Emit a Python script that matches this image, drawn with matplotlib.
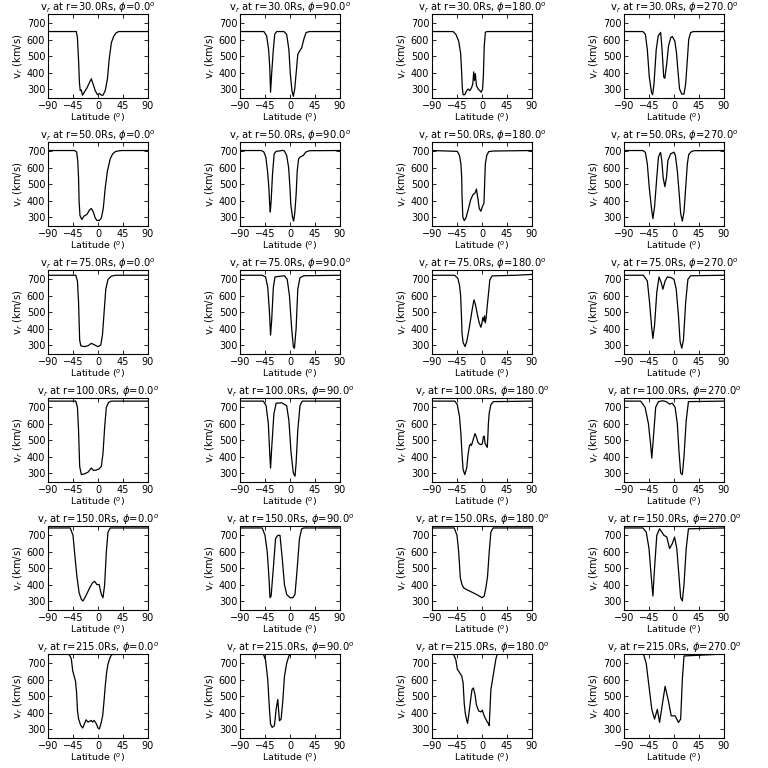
'''
Radial solar wind speed vs latitude at several distances and longitudes.
'''
import matplotlib
matplotlib.use('Agg')
import matplotlib.pyplot as plt

###############################################################################
# data (latitude in degrees, v_r in km/s)

RADII = [30.0, 50.0, 75.0, 100.0, 150.0, 215.0]
PHIS = [0.0, 90.0, 180.0, 270.0]

lat_30_0 = [-90, -39, -37, -35, -33.5, -32, -30, -28, -20, -12, -5, -1, 3, 6, 9, 13, 17, 20, 24, 28, 32, 37, 90]
v_30_0 = [650, 650, 612, 477, 342, 290, 294, 262, 306, 362, 290, 265, 273, 262, 262, 290, 362, 477, 581, 619, 640, 650, 650]
lat_30_90 = [-90, -47, -42, -38.5, -36.5, -35, -33, -30, -27.5, -24, -11, -6, -2, 0.5, 3.5, 6, 8.5, 11, 14, 17, 21, 25, 29, 35, 90]
v_30_90 = [650, 650, 623, 540, 435, 280, 394, 540, 633, 650, 650, 633, 540, 394, 290, 255, 300, 394, 510, 530, 550, 605, 644, 650, 650]
lat_30_180 = [-90, -52, -47, -42, -38.5, -36.5, -35.5, -34, -31, -27.5, -25, -22, -19, -16.5, -15, -13.5, -12, -10, -7, -4, -1.5, 1, 2.5, 4, 6, 8, 90]
v_30_180 = [650, 650, 633, 592, 519, 394, 310, 265, 265, 290, 300, 290, 306, 331, 404, 352, 394, 321, 300, 290, 280, 300, 383, 560, 644, 650, 650]
lat_30_270 = [-90, -56, -51.5, -48, -44.5, -40.5, -38.5, -36, -32, -28.5, -24, -21.5, -18.5, -16.5, -13, -10, -6, -3, 1.5, 4.5, 7.5, 10, 14, 18, 21, 24, 26.5, 30, 35, 90]
v_30_270 = [650, 650, 633, 540, 373, 279, 265, 331, 540, 623, 645, 540, 373, 365, 456, 560, 612, 620, 592, 519, 394, 300, 269, 269, 331, 477, 602, 644, 650, 650]

lat_50_0 = [-90, -42, -38.5, -36.5, -35, -34, -32.5, -30, -29, -25, -20, -15.5, -12, -8.5, -5, -2, 2.5, 6, 9.5, 13, 17, 22, 26.5, 32, 42, 90]
v_50_0 = [705, 705, 696, 644, 540, 394, 310, 290, 285, 306, 315, 342, 352, 331, 294, 279, 279, 294, 352, 477, 581, 654, 685, 700, 705, 705]
lat_50_90 = [-90, -51.5, -47, -43.5, -40.5, -38, -36.5, -35.5, -34, -31.5, -28.5, -25, -20, -13, -10, -6, -2.5, 0, 1.5, 4.5, 6.5, 8.5, 11, 13, 15.5, 18, 24, 28.5, 35, 90]
v_50_90 = [705, 705, 696, 665, 581, 477, 373, 330, 394, 560, 685, 700, 702, 706, 702, 675, 602, 477, 373, 300, 275, 321, 435, 581, 654, 665, 675, 696, 704, 705]
lat_50_180 = [-90, -44.5, -40.5, -38, -36.5, -36, -34.5, -32, -29, -25, -20.5, -16.5, -12.5, -10, -7.5, -5, -2, 0, 2, 3.5, 4.5, 6, 8.5, 12, 20, 90]
v_50_180 = [705, 700, 675, 623, 540, 435, 300, 278, 294, 342, 404, 435, 446, 470, 415, 352, 335, 356, 373, 383, 477, 623, 675, 698, 702, 705]
lat_50_270 = [-90, -56, -51.5, -48, -44.5, -40.5, -38, -35, -31, -28, -25, -24, -22, -19.5, -16.5, -13.5, -11, -6, 0, 2.5, 6, 9.5, 12, 15, 18, 21, 24, 26.5, 31.5, 37, 90]
v_50_270 = [705, 705, 694, 623, 477, 352, 290, 362, 540, 665, 690, 692, 644, 540, 485, 540, 644, 685, 695, 675, 581, 435, 321, 275, 331, 477, 623, 681, 700, 704, 705]

lat_75_0 = [-90, -40, -37, -35, -33, -31, -25, -18, -12, -6, 0, 5, 8, 11, 14, 18, 24, 32, 90]
v_75_0 = [725, 725, 690, 560, 330, 295, 290, 295, 310, 300, 290, 300, 360, 500, 640, 700, 720, 725, 725]
lat_75_90 = [-90, -50, -44, -40, -37, -35, -33, -30, -27, -10, -5, -1, 3, 6, 8, 11, 14, 18, 25, 90]
v_75_90 = [725, 725, 715, 650, 500, 360, 450, 650, 715, 722, 700, 600, 400, 290, 280, 400, 640, 710, 722, 725]
lat_75_180 = [-90, -49, -43.5, -40.5, -38.5, -37, -36, -34, -30.5, -27.5, -24, -20.5, -17.5, -14.5, -12, -8.5, -5, -2, 0, 1.5, 3.5, 4.5, 6, 7.5, 9.5, 12, 14, 18, 61, 90]
v_75_180 = [725, 725, 706, 665, 602, 477, 373, 315, 290, 321, 383, 456, 519, 575, 550, 488, 435, 408, 435, 467, 446, 477, 435, 467, 540, 623, 696, 721, 725, 730]
lat_75_270 = [-90, -55, -48, -44, -40, -38, -35, -31, -27, -23, -20, -16, -12, -5, 0, 4, 8, 11, 14, 17, 21, 25, 30, 90]
v_75_270 = [725, 725, 690, 560, 400, 340, 420, 620, 715, 680, 640, 690, 715, 710, 700, 640, 480, 320, 280, 330, 560, 700, 722, 725]

lat_100_0 = [-90, -40, -37, -35, -33, -30, -24, -18, -12, -8, -3, 2, 6, 9, 12, 15, 19, 24, 90]
v_100_0 = [738, 738, 700, 560, 340, 290, 295, 305, 330, 315, 318, 325, 340, 420, 580, 700, 730, 738, 738]
lat_100_90 = [-90, -48, -43, -39, -36.5, -35, -33, -29, -25, -15, -6, -2, 2, 6, 9, 11, 14, 18, 22, 90]
v_100_90 = [738, 738, 710, 600, 420, 330, 450, 660, 725, 728, 710, 620, 420, 300, 280, 360, 560, 710, 738, 738]
lat_100_180 = [-90, -49, -44.5, -40.5, -38, -36, -34, -31, -27.5, -25, -22.5, -20.5, -19, -15.5, -12.5, -10, -7.5, -5, -2, 0.5, 2.5, 4, 5.5, 7.5, 9.5, 10.5, 11.5, 13, 16, 20.5, 90]
v_100_180 = [738, 738, 717, 644, 540, 415, 321, 290, 331, 415, 467, 477, 467, 508, 540, 519, 488, 477, 473, 477, 519, 525, 481, 467, 456, 519, 602, 665, 717, 735, 738]
lat_100_270 = [-90, -60, -52, -46, -42, -40, -37, -33, -28, -20, -14, -8, -3, 2, 6, 9, 12, 15, 18, 22, 26, 90]
v_100_270 = [738, 738, 700, 600, 470, 390, 520, 700, 735, 740, 735, 720, 725, 700, 600, 430, 300, 290, 400, 620, 735, 738]

lat_150_0 = [-90, -50, -45, -42, -38, -34, -30, -27, -22, -15, -10, -6, -2, 2, 6, 9, 12, 15, 18, 22, 90]
v_150_0 = [745, 745, 700, 590, 450, 350, 310, 300, 330, 380, 410, 420, 400, 400, 340, 320, 400, 600, 720, 745, 745]
lat_150_90 = [-90, -50, -45, -41, -38, -36, -34, -30, -26, -22, -18, -14, -10, -6, 0, 5, 9, 13, 17, 21, 25, 90]
v_150_90 = [745, 745, 700, 600, 450, 320, 330, 500, 680, 700, 700, 560, 400, 340, 320, 320, 340, 500, 680, 740, 745, 745]
lat_150_180 = [-90, -50, -45, -42, -39, -36, -33, -28, -22, -16, -10, -5, 0, 4, 7, 10, 13, 16, 20, 90]
v_150_180 = [745, 745, 700, 600, 440, 400, 380, 370, 360, 350, 340, 330, 320, 330, 380, 450, 600, 720, 745, 745]
lat_150_270 = [-90, -56, -50, -45, -41, -38, -35, -31, -26, -18, -13, -8, -3, 1, 5, 9, 12, 15, 18, 22, 26, 90]
v_150_270 = [745, 745, 720, 620, 450, 330, 500, 700, 740, 700, 690, 620, 650, 690, 620, 450, 320, 300, 400, 620, 740, 745]

lat_215_0 = [-90, -56.5, -51.5, -48, -45.5, -43, -40.5, -38.5, -37, -35, -31, -27.5, -24, -21.5, -18, -14.5, -12, -10, -7, -3.5, 0, 2.5, 6, 8.5, 11, 13, 15.5, 18, 22, 25, 90]
v_215_0 = [757, 757, 752, 727, 654, 623, 592, 519, 415, 362, 321, 306, 335, 356, 342, 348, 352, 342, 352, 335, 306, 300, 342, 383, 477, 560, 644, 696, 738, 754, 757]
lat_215_90 = [-90, -48, -44, -40, -37, -35, -32, -28, -25, -22, -19, -16, -13, -10, -6, -2, 2, 90]
v_215_90 = [757, 757, 720, 600, 420, 330, 310, 320, 420, 480, 350, 360, 470, 620, 700, 745, 757, 757]
lat_215_180 = [-90, -51.5, -47, -44.5, -40.5, -36.5, -34, -32, -30, -27.5, -26, -24, -20.5, -18, -15.5, -12.5, -10, -6, -2, 0.5, 3.5, 6.5, 9.5, 12, 13, 14, 16, 19, 22, 25, 27.5, 90]
v_215_180 = [757, 757, 721, 665, 644, 623, 581, 456, 394, 352, 335, 383, 477, 540, 550, 508, 446, 410, 404, 415, 383, 362, 342, 331, 320, 394, 540, 602, 665, 727, 757, 757]
lat_215_270 = [-90, -55, -50, -45, -40, -35, -30, -26, -21, -16, -10, -5, 2, 8, 12, 15, 18, 90]
v_215_270 = [757, 757, 700, 560, 420, 360, 420, 340, 450, 560, 470, 380, 380, 340, 360, 600, 745, 757]

PROFILES = {
    (30.0, 0.0): (lat_30_0, v_30_0), (30.0, 90.0): (lat_30_90, v_30_90),
    (30.0, 180.0): (lat_30_180, v_30_180), (30.0, 270.0): (lat_30_270, v_30_270),
    (50.0, 0.0): (lat_50_0, v_50_0), (50.0, 90.0): (lat_50_90, v_50_90),
    (50.0, 180.0): (lat_50_180, v_50_180), (50.0, 270.0): (lat_50_270, v_50_270),
    (75.0, 0.0): (lat_75_0, v_75_0), (75.0, 90.0): (lat_75_90, v_75_90),
    (75.0, 180.0): (lat_75_180, v_75_180), (75.0, 270.0): (lat_75_270, v_75_270),
    (100.0, 0.0): (lat_100_0, v_100_0), (100.0, 90.0): (lat_100_90, v_100_90),
    (100.0, 180.0): (lat_100_180, v_100_180), (100.0, 270.0): (lat_100_270, v_100_270),
    (150.0, 0.0): (lat_150_0, v_150_0), (150.0, 90.0): (lat_150_90, v_150_90),
    (150.0, 180.0): (lat_150_180, v_150_180), (150.0, 270.0): (lat_150_270, v_150_270),
    (215.0, 0.0): (lat_215_0, v_215_0), (215.0, 90.0): (lat_215_90, v_215_90),
    (215.0, 180.0): (lat_215_180, v_215_180), (215.0, 270.0): (lat_215_270, v_215_270),
}

###############################################################################

def main():
    '''Draw the 6x4 grid of latitude profiles'''
    plt.rcParams['font.family'] = ['DejaVu Sans']
    plt.rcParams['mathtext.fontset'] = 'dejavusans'

    fig = plt.figure(figsize=(7.68, 7.68), dpi=100)
    fig.set_facecolor('white')
    size = 768.0

    for row, radius in enumerate(RADII):
        for col, phi in enumerate(PHIS):
            lat, vel = PROFILES[(radius, phi)]
            left = (col * 192 + 48) / size
            bottom = 1 - (row * 128 + 98) / size
            axes = fig.add_axes([left, bottom, 100 / size, 84 / size])
            axes.plot(lat, vel, color='black', linewidth=0.9)
            axes.set_xlim(-90, 90)
            axes.set_ylim(245, 757)
            axes.set_xticks([-90, -45, 0, 45, 90])
            axes.set_yticks([300, 400, 500, 600, 700])
            axes.tick_params(direction='in', top=True, right=True, length=3,
                             width=0.6, labelsize=7, pad=2)
            for spine in axes.spines.values():
                spine.set_linewidth(0.8)
            axes.set_title(r'v$_r$ at r={:.1f}Rs, $\phi$={:.1f}$^o$'.format(radius, phi),
                           fontsize=7.2, pad=2.5)
            axes.set_xlabel(r'Latitude ($^o$)', fontsize=6.8, labelpad=0)
            axes.set_ylabel(r'v$_r$ (km/s)', fontsize=7.2, labelpad=1)

    fig.savefig('out.png', dpi=100, facecolor='white')

###############################################################################

if __name__ == '__main__':
    main()
